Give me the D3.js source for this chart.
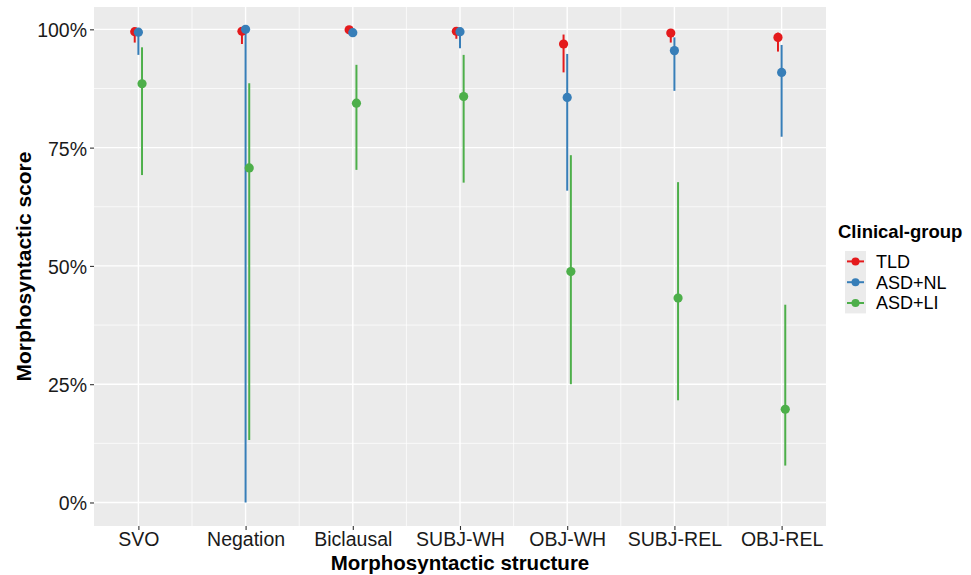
<!DOCTYPE html>
<html>
<head>
<meta charset="utf-8">
<script src="https://cdn.jsdelivr.net/npm/d3@7"></script>
<style>
body{margin:0;background:#fff;}
text{font-family:"Liberation Sans",Arial,Helvetica,sans-serif;}
</style>
</head>
<body>
<div id="chart"></div>
<script>
// data
var structures = ["SVO","Negation","Biclausal","SUBJ-WH","OBJ-WH","SUBJ-REL","OBJ-REL"];
var groups = ["TLD","ASD+NL","ASD+LI"];
var groupColors = ["#E41A1C","#377EB8","#4DAF4A"];

var tldMean = [0.995,0.996,0.999,0.996,0.969,0.992,0.983];
var tldLow  = [0.972,0.969,0.995,0.980,0.909,0.972,0.953];
var tldHigh = [1.000,1.000,1.000,1.000,0.989,1.000,0.993];

var nlMean = [0.994,1.000,0.993,0.995,0.856,0.955,0.909];
var nlLow  = [0.946,0.000,0.990,0.960,0.659,0.870,0.773];
var nlHigh = [1.000,1.000,1.000,1.000,0.948,0.983,0.967];

var liMean = [0.885,0.707,0.844,0.858,0.488,0.432,0.197];
var liLow  = [0.692,0.132,0.703,0.676,0.250,0.216,0.078];
var liHigh = [0.962,0.886,0.925,0.946,0.734,0.677,0.418];

var yTicks = [0,0.25,0.5,0.75,1];

var W = 971, H = 575;
var panel = {left:94,right:826,top:7,bottom:526};

var svg = d3.select("#chart").append("svg")
  .attr("width",W).attr("height",H);

var x = d3.scalePoint()
  .domain(structures)
  .range([panel.left,panel.right])
  .padding(0.414);

var y = d3.scaleLinear()
  .domain([-0.0497,1.0472])
  .range([panel.bottom,panel.top]);

var dodge = x.step()*0.034;

// panel background
svg.append("rect")
  .attr("x",panel.left).attr("y",panel.top)
  .attr("width",panel.right-panel.left)
  .attr("height",panel.bottom-panel.top)
  .attr("fill","#EBEBEB");

// minor grid
var minorY = [0.125,0.375,0.625,0.875];
svg.selectAll(".minorY").data(minorY).enter().append("line")
  .attr("x1",panel.left).attr("x2",panel.right)
  .attr("y1",function(d){return y(d);}).attr("y2",function(d){return y(d);})
  .attr("stroke","#fff").attr("stroke-width",0.7);
var minorX = structures.slice(1).map(function(s){return x(s)-x.step()/2;});
svg.selectAll(".minorX").data(minorX).enter().append("line")
  .attr("y1",panel.top).attr("y2",panel.bottom)
  .attr("x1",function(d){return d;}).attr("x2",function(d){return d;})
  .attr("stroke","#fff").attr("stroke-width",0.7);

// major grid
svg.selectAll(".majorY").data(yTicks).enter().append("line")
  .attr("x1",panel.left).attr("x2",panel.right)
  .attr("y1",function(d){return y(d);}).attr("y2",function(d){return y(d);})
  .attr("stroke","#fff").attr("stroke-width",1.4);
svg.selectAll(".majorX").data(structures).enter().append("line")
  .attr("y1",panel.top).attr("y2",panel.bottom)
  .attr("x1",function(d){return x(d);}).attr("x2",function(d){return x(d);})
  .attr("stroke","#fff").attr("stroke-width",1.4);

// axes
var yAxis = svg.append("g")
  .attr("transform","translate("+panel.left+",0)")
  .call(d3.axisLeft(y).tickValues(yTicks).tickFormat(d3.format(".0%")).tickSize(4).tickPadding(3));
var xAxis = svg.append("g")
  .attr("transform","translate(0,"+panel.bottom+")")
  .call(d3.axisBottom(x).tickSize(4).tickPadding(3));
[yAxis,xAxis].forEach(function(a){
  a.select(".domain").remove();
  a.selectAll(".tick line").attr("stroke","#333").attr("stroke-width",1.1);
  a.selectAll(".tick text").attr("fill","#1a1a1a").style("font-size","19.5px");
});
yAxis.selectAll(".tick text").attr("dy","0.38em");
xAxis.selectAll(".tick text").attr("dy","0.69em");

// series
var series = [
  {mean:tldMean,low:tldLow,high:tldHigh},
  {mean:nlMean,low:nlLow,high:nlHigh},
  {mean:liMean,low:liLow,high:liHigh}
];
var rows = [];
series.forEach(function(s,gi){
  structures.forEach(function(st,i){
    rows.push({g:gi,x:st,m:s.mean[i],lo:s.low[i],hi:s.high[i]});
  });
});
function px(d){return x(d.x)+(d.g-1)*dodge;}

var marks = svg.append("g");
marks.selectAll(".range").data(rows).enter().append("line")
  .attr("class","range")
  .attr("x1",px).attr("x2",px)
  .attr("y1",function(d){return y(d.lo);})
  .attr("y2",function(d){return y(d.hi);})
  .attr("stroke",function(d){return groupColors[d.g];})
  .attr("stroke-width",2);
marks.selectAll(".pt").data(rows).enter().append("circle")
  .attr("class","pt")
  .attr("cx",px)
  .attr("cy",function(d){return y(d.m);})
  .attr("r",4.6)
  .attr("fill",function(d){return groupColors[d.g];});

// axis titles
svg.append("text")
  .attr("x",(panel.left+panel.right)/2).attr("y",569.5)
  .attr("text-anchor","middle")
  .style("font-size","20.5px").style("font-weight","bold")
  .text("Morphosyntactic structure");
svg.append("text")
  .attr("transform","translate(31,"+((panel.top+panel.bottom)/2)+") rotate(-90)")
  .attr("text-anchor","middle")
  .style("font-size","21px").style("font-weight","bold")
  .text("Morphosyntactic score");

// legend
var leg = svg.append("g");
leg.append("text")
  .attr("x",838).attr("y",238)
  .style("font-size","18.5px").style("font-weight","bold")
  .text("Clinical-group");
var keyTop = 251, keyH = 20.8;
leg.append("rect")
  .attr("x",845).attr("y",keyTop)
  .attr("width",21).attr("height",keyH*groups.length)
  .attr("fill","#EBEBEB");
var item = leg.selectAll(".item").data(groups).enter().append("g")
  .attr("transform",function(d,i){return "translate(0,"+(keyTop+keyH*i+keyH/2)+")";});
item.append("line")
  .attr("x1",847).attr("x2",864).attr("y1",0).attr("y2",0)
  .attr("stroke",function(d,i){return groupColors[i];})
  .attr("stroke-width",2);
item.append("circle")
  .attr("cx",855.5).attr("cy",0).attr("r",4)
  .attr("fill",function(d,i){return groupColors[i];});
item.append("text")
  .attr("x",876).attr("y",0).attr("dy","0.36em")
  .style("font-size","18px").attr("fill","#000")
  .text(function(d){return d;});
</script>
</body>
</html>
